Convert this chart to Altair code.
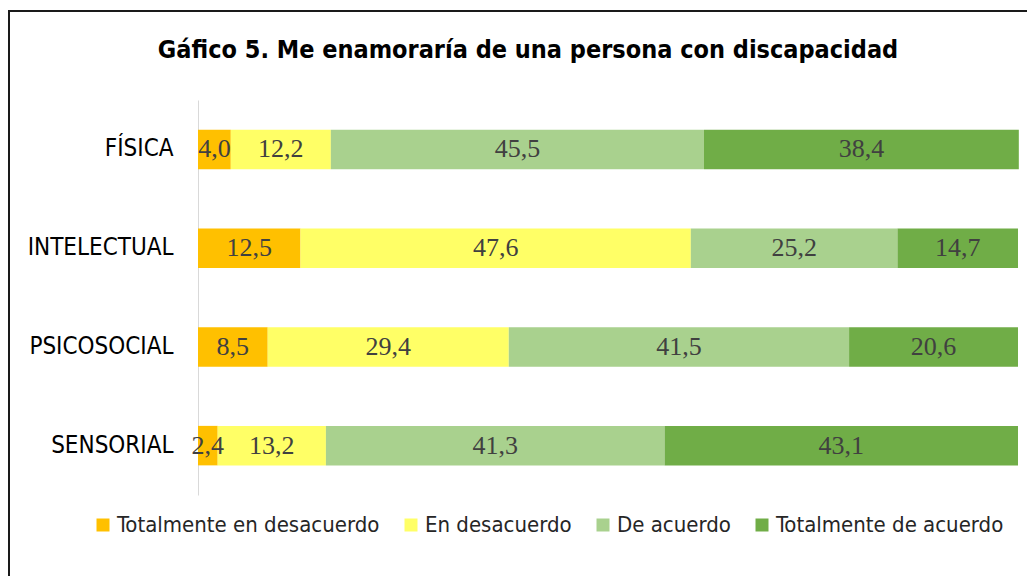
import altair as alt
import pandas as pd

categories = ["FÍSICA", "INTELECTUAL", "PSICOSOCIAL", "SENSORIAL"]
responses = ["Totalmente en desacuerdo", "En desacuerdo", "De acuerdo", "Totalmente de acuerdo"]
colors = ["#FFC000", "#FFFF66", "#A9D18E", "#70AD47"]
values = {
    "FÍSICA": [4.0, 12.2, 45.5, 38.4],
    "INTELECTUAL": [12.5, 47.6, 25.2, 14.7],
    "PSICOSOCIAL": [8.5, 29.4, 41.5, 20.6],
    "SENSORIAL": [2.4, 13.2, 41.3, 43.1],
}
title_text = "Gáfico 5. Me enamoraría de una persona con discapacidad"

rows = []
for c in categories:
    for i, r in enumerate(responses):
        v = values[c][i]
        rows.append({"cat": c, "resp": r, "ord": i, "val": v,
                     "lab": f"{v:.1f}".replace(".", ",")})
df = pd.DataFrame(rows)

NARROW = "DejaVu Sans Condensed, Liberation Sans, sans-serif"

base = alt.Chart(df).transform_stack(
    stack="val", groupby=["cat"], as_=["x0", "x1"], sort=[alt.SortField("ord")]
).transform_calculate(mid="(datum.x0 + datum.x1) / 2")

bars = base.mark_bar().encode(
    y=alt.Y("cat:N", sort=categories, title=None,
            scale=alt.Scale(paddingInner=0.6, paddingOuter=0.3),
            axis=alt.Axis(labelFont=NARROW, labelFontSize=24, labelColor="#000000",
                          labelPadding=25, ticks=False, domainColor="#D9D9D9",
                          domainWidth=1, grid=False)),
    x=alt.X("x0:Q", scale=alt.Scale(domain=[0, 100], nice=False), axis=None),
    x2="x1:Q",
    color=alt.Color("resp:N", scale=alt.Scale(domain=responses, range=colors),
                    legend=alt.Legend(title=None, orient="none", direction="horizontal",
                                      legendX=-106, legendY=414, padding=0,
                                      symbolType="square", symbolSize=169,
                                      symbolStrokeWidth=0, labelFont=NARROW,
                                      labelFontSize=22, labelColor="#262626",
                                      labelOffset=3, columnPadding=20, labelLimit=400)),
)

texts = base.mark_text(font="Liberation Serif", fontSize=26, color="#404040").encode(
    y=alt.Y("cat:N", sort=categories),
    x=alt.X("mid:Q"),
    text="lab:N",
)

border_df = pd.DataFrame({"a": [0]})
left_line = alt.Chart(border_df).mark_rule(color="#1a1a1a", strokeWidth=2).encode(
    x=alt.value(-189), y=alt.value(-90), y2=alt.value(500)
)
top_line = alt.Chart(border_df).mark_rule(color="#1a1a1a", strokeWidth=2).encode(
    x=alt.value(-190), x2=alt.value(840), y=alt.value(-89)
)

chart = alt.layer(bars, texts, left_line, top_line).properties(
    width=820, height=395,
    title=alt.TitleParams(title_text, font=NARROW, fontSize=25, fontWeight="bold",
                          color="#000000", anchor="middle", frame="group",
                          baseline="alphabetic", offset=0, dx=-80, dy=74),
    autosize=alt.AutoSizeParams(type="none"),
    padding={"left": 190, "top": 92, "right": 9, "bottom": 81},
).configure_view(stroke=None)

chart.save("out.html", embed_options={"renderer": "svg", "actions": False})
